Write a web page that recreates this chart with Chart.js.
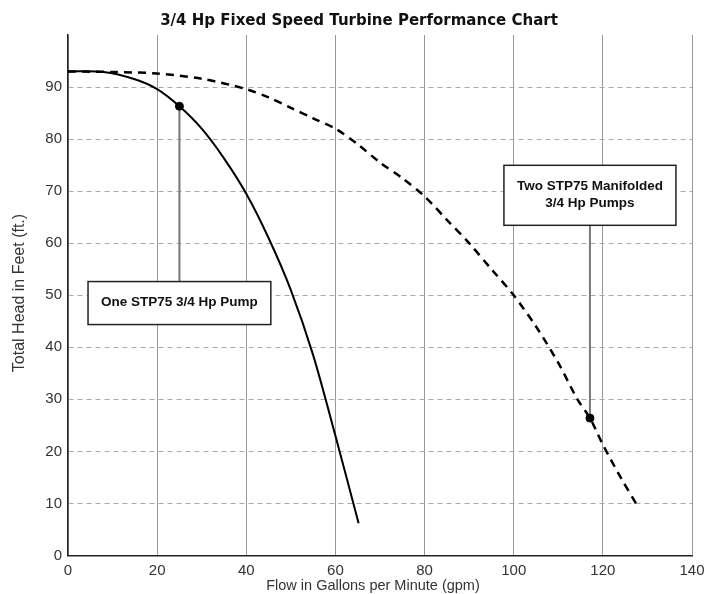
<!DOCTYPE html>
<html>
<head>
<meta charset="utf-8">
<script src="https://cdn.jsdelivr.net/npm/chart.js@4.4.1/dist/chart.umd.min.js"></script>
<style>
  html, body { margin: 0; padding: 0; background: #ffffff; }
  #wrap { width: 721px; height: 594px; position: relative; }
</style>
</head>
<body>
<div id="wrap"><canvas id="c"></canvas></div>
<script>
// ---- data ----
const chartTitle = "3/4 Hp Fixed Speed Turbine Performance Chart";
const xAxisTitle = "Flow in Gallons per Minute (gpm)";
const yAxisTitle = "Total Head in Feet (ft.)";

const flowOne = [0, 8, 15, 20, 25, 30, 35, 40, 45, 50, 55, 60, 65.2];
const headOne = [93, 92.9, 91.5, 89.6, 86.3, 82, 76.3, 69.5, 61, 51, 38.5, 23, 6.2];

const flowTwo = [0, 10, 20, 30, 40, 45, 50, 55, 60, 65, 70, 75, 80, 85, 90, 95, 100, 105, 110, 114.3, 117.1, 120, 124, 128];
const headTwo = [93, 92.9, 92.6, 91.6, 89.6, 88, 86, 84, 82, 79, 75.5, 72.5, 69, 64.5, 60, 55, 50, 44, 37, 30, 26.4, 21.3, 15, 9.2];

const markerFlow = [25, 117.1];
const markerHead = [86.3, 26.4];
const boxHead = [48.5, 69.2];
const boxLabels = [["One STP75 3/4 Hp Pump"], ["Two STP75 Manifolded", "3/4 Hp Pumps"]];

const xTicks = [0, 20, 40, 60, 80, 100, 120, 140];
const yTicks = [0, 10, 20, 30, 40, 50, 60, 70, 80, 90];

const toPts = (xs, ys) => xs.map((x, i) => ({ x: x, y: ys[i] }));

const FONT = "'Liberation Sans', Arial, sans-serif";
const TFONT = "'DejaVu Sans', sans-serif";

const annotPlugin = {
  id: 'annot',
  beforeDatasetsDraw(chart) {
    const ctx = chart.ctx, xs = chart.scales.x, ys = chart.scales.y;
    ctx.save();
    ctx.strokeStyle = '#777777';
    ctx.lineWidth = 2;
    for (let i = 0; i < markerFlow.length; i++) {
      const px = xs.getPixelForValue(markerFlow[i]);
      ctx.beginPath();
      ctx.moveTo(px, ys.getPixelForValue(markerHead[i]));
      ctx.lineTo(px, ys.getPixelForValue(boxHead[i]));
      ctx.stroke();
    }
    ctx.restore();
  },
  afterDatasetsDraw(chart) {
    const ctx = chart.ctx, xs = chart.scales.x, ys = chart.scales.y;
    ctx.save();
    ctx.font = "bold 13.5px " + FONT;
    ctx.textAlign = 'center';
    ctx.textBaseline = 'middle';
    const lineH = 17, padX = 13, padY = 13;
    for (let i = 0; i < markerFlow.length; i++) {
      const lines = boxLabels[i];
      const cx = xs.getPixelForValue(markerFlow[i]);
      const cy = ys.getPixelForValue(boxHead[i]);
      const tw = Math.max(...lines.map(l => ctx.measureText(l).width));
      const w = tw + 2 * padX, h = lines.length * lineH + 2 * padY;
      ctx.fillStyle = '#ffffff';
      ctx.fillRect(cx - w / 2, cy - h / 2, w, h);
      ctx.strokeStyle = '#222222';
      ctx.lineWidth = 1.5;
      ctx.strokeRect(cx - w / 2, cy - h / 2, w, h);
      ctx.fillStyle = '#111111';
      lines.forEach((l, k) => {
        ctx.fillText(l, cx, cy - (lines.length - 1) * lineH / 2 + k * lineH - 1);
      });
    }
    ctx.restore();
  },
  afterDraw(chart) {
    const ctx = chart.ctx, a = chart.chartArea;
    ctx.save();
    ctx.fillStyle = '#111111';
    ctx.textAlign = 'center';
    ctx.textBaseline = 'middle';
    ctx.font = "bold 15px " + TFONT;
    ctx.fillText(chartTitle, 359, 21);
    ctx.fillStyle = '#333333';
    ctx.font = "14.5px " + FONT;
    ctx.fillText(xAxisTitle, 373, 586);
    ctx.translate(20, 293);
    ctx.rotate(-Math.PI / 2);
    ctx.font = "16px " + FONT;
    ctx.fillText(yAxisTitle, 0, 0);
    ctx.restore();
  }
};

new Chart(document.getElementById('c'), {
  type: 'line',
  data: {
    datasets: [
      {
        label: 'One STP75 3/4 Hp Pump',
        data: toPts(flowOne, headOne),
        borderColor: '#000000',
        borderWidth: 2,
        pointRadius: 0,
        tension: 0.3,
        fill: false
      },
      {
        label: 'Two STP75 Manifolded 3/4 Hp Pumps',
        data: toPts(flowTwo, headTwo),
        borderColor: '#000000',
        borderWidth: 2.5,
        borderDash: [8, 6],
        pointRadius: 0,
        tension: 0.3,
        fill: false
      },
      {
        type: 'scatter',
        label: 'markers',
        data: toPts(markerFlow, markerHead),
        pointRadius: 4,
        pointBackgroundColor: '#000000',
        pointBorderColor: '#000000',
        showLine: false
      }
    ]
  },
  options: {
    responsive: true,
    maintainAspectRatio: false,
    animation: false,
    layout: { padding: { top: 35, right: 29, left: 0, bottom: 0 } },
    plugins: { legend: { display: false }, title: { display: false }, tooltip: { enabled: false } },
    scales: {
      x: {
        type: 'linear',
        min: 0, max: 140,
        afterBuildTicks: s => { s.ticks = xTicks.map(v => ({ value: v })); },
        afterFit: s => { s.height = 38.5; },
        grid: { color: '#999999', lineWidth: 1, drawTicks: false },
        border: { color: '#222222', width: 1.5 },
        ticks: { color: '#333333', font: { family: FONT, size: 15 }, padding: 6, maxRotation: 0 }
      },
      y: {
        type: 'linear',
        min: 0, max: 100,
        afterBuildTicks: s => { s.ticks = yTicks.map(v => ({ value: v })); },
        afterFit: s => { s.width = 68; },
        grid: { color: '#aaaaaa', lineWidth: 1, drawTicks: false },
        border: { color: '#222222', width: 1.5, dash: [5, 4] },
        ticks: { color: '#333333', font: { family: FONT, size: 15 }, padding: 6 }
      }
    }
  },
  plugins: [annotPlugin]
});
</script>
</body>
</html>
